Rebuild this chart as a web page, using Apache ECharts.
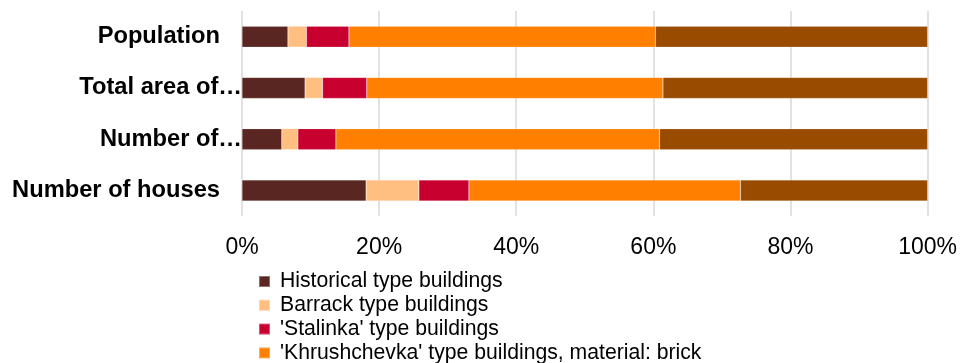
<!DOCTYPE html>
<html>
<head>
<meta charset="utf-8">
<script src="https://cdn.jsdelivr.net/npm/echarts@6/dist/echarts.min.js"></script>
<style>
  html, body { margin: 0; padding: 0; background: #ffffff; }
  #chart { width: 960px; height: 363px; }
</style>
</head>
<body>
<div id="chart"></div>
<script>
// Categories, listed bottom to top as the category axis draws them
const categories = ['Number of houses', 'Number of\u2026', 'Total area of\u2026', 'Population'];

// Share of each building type, % (same category order)
const historical  = [18.1, 5.8, 9.2, 6.7];
const barrack     = [7.7, 2.35, 2.55, 2.7];
const stalinka    = [7.3, 5.55, 6.45, 6.2];
const khrushBrick = [39.6, 47.2, 43.2, 44.7];
const khrushPanel = [27.3, 39.1, 38.6, 39.7];

const seriesNames = [
  'Historical type buildings',
  'Barrack type buildings',
  "'Stalinka' type buildings",
  "'Khrushchevka' type buildings, material: brick",
  "'Khrushchevka' type buildings, material: panel"
];
const seriesColors = ['#5A2621', '#FFBF80', '#C80030', '#FF8000', '#994C00'];
const seriesData = [historical, barrack, stalinka, khrushBrick, khrushPanel];

// Axis tick values (percent)
const xTicks = [0, 20, 40, 60, 80, 100];

const FONT = '"Liberation Sans", Arial, sans-serif';

const chart = echarts.init(document.getElementById('chart'), null, { renderer: 'canvas' });

chart.setOption({
  animation: false,
  backgroundColor: '#ffffff',
  grid: { left: 242, right: 31, top: 11, height: 205, containLabel: false },
  xAxis: {
    type: 'value',
    min: xTicks[0],
    max: xTicks[xTicks.length - 1],
    interval: xTicks[1] - xTicks[0],
    axisLine: { show: false },
    axisTick: { show: false },
    splitLine: { show: true, lineStyle: { color: '#d9d9d9', width: 1.5 } },
    axisLabel: {
      formatter: v => v + '%',
      color: '#000000',
      fontFamily: FONT,
      fontSize: 23,
      margin: 20
    }
  },
  yAxis: {
    type: 'category',
    data: categories,
    axisLine: { show: false },
    axisTick: { show: false },
    axisLabel: {
      margin: 0,
      formatter: v => v.endsWith('\u2026') ? '{cut|' + v + '}' : '{full|' + v + '}',
      rich: {
        full: { fontFamily: FONT, fontSize: 23.7, fontWeight: 'bold', color: '#000000', padding: [0, 22, 0, 0] },
        cut:  { fontFamily: FONT, fontSize: 23.7, fontWeight: 'bold', color: '#000000', padding: [0, 0, 0, 0] }
      }
    }
  },
  legend: {
    orient: 'vertical',
    left: 253,
    top: 266,
    height: 300,
    itemWidth: 11,
    itemHeight: 11,
    itemGap: 2.8,
    icon: 'rect',
    data: seriesNames,
    textStyle: {
      fontFamily: FONT,
      fontSize: 21.2,
      color: '#000000',
      padding: [0, 0, 0, 5]
    }
  },
  series: seriesNames.map((name, i) => ({
    name: name,
    type: 'bar',
    stack: 'share',
    barWidth: 21,
    data: seriesData[i],
    itemStyle: { color: seriesColors[i], borderColor: 'rgba(255,255,255,0.35)', borderWidth: 0.5 },
    emphasis: { disabled: true }
  }))
});
</script>
</body>
</html>
